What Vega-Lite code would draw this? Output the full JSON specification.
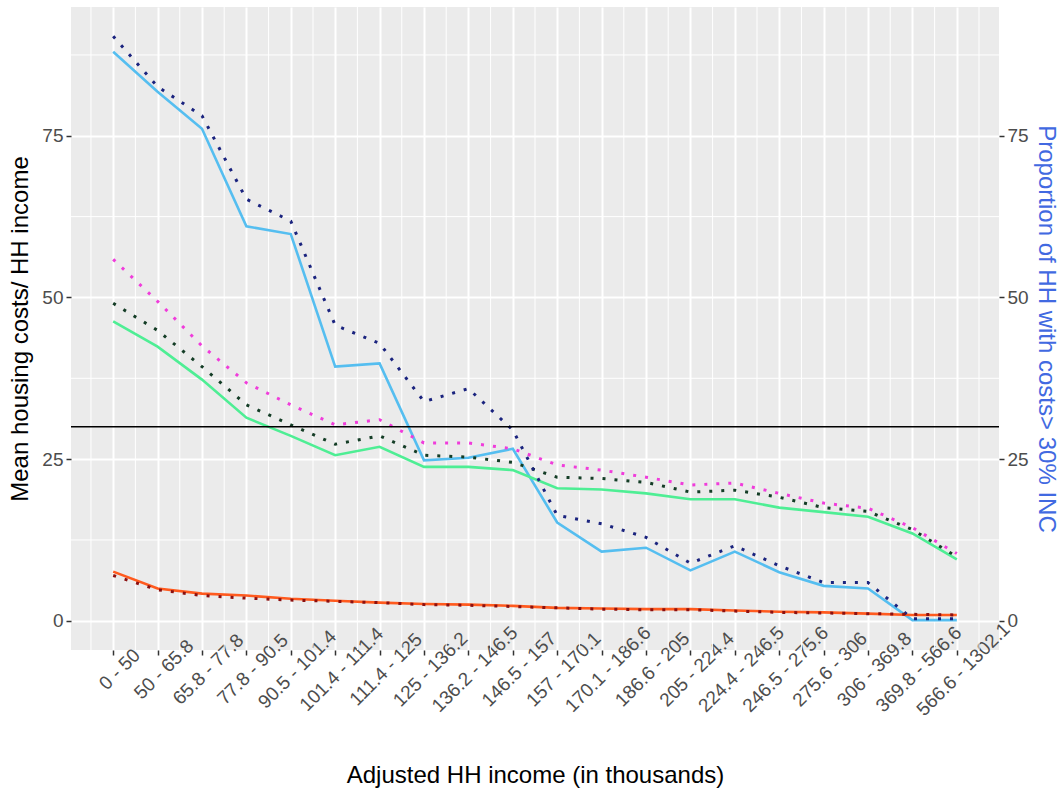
{
  "$schema": "https://vega.github.io/schema/vega-lite/v6.json",
  "width": 928,
  "height": 643,
  "autosize": {"type": "none"},
  "padding": {"left": 71, "top": 7, "right": 63, "bottom": 141},
  "background": "white",
  "config": {
    "view": {"fill": "#EBEBEB", "stroke": null},
    "font": "Liberation Sans",
    "axis": {
      "domain": false,
      "tickColor": "#333333",
      "tickSize": 5,
      "tickWidth": 1.5,
      "labelFont": "Liberation Sans",
      "labelFontSize": 19,
      "labelColor": "#4D4D4D",
      "titleFont": "Liberation Sans",
      "titleFontSize": 24,
      "titleFontWeight": "normal",
      "titleColor": "black",
      "gridColor": "white",
      "gridWidth": 2,
      "gridOpacity": 1
    },
    "axisX": {
      "values": [1, 2, 3, 4, 5, 6, 7, 8, 9, 10, 11, 12, 13, 14, 15, 16, 17, 18, 19, 20],
      "labelExpr": "['0 - 50','50 - 65.8','65.8 - 77.8','77.8 - 90.5','90.5 - 101.4','101.4 - 111.4','111.4 - 125','125 - 136.2','136.2 - 146.5','146.5 - 157','157 - 170.1','170.1 - 186.6','186.6 - 205','205 - 224.4','224.4 - 246.5','246.5 - 275.6','275.6 - 306','306 - 369.8','369.8 - 566.6','566.6 - 1302.1'][datum.value - 1]",
      "labelAngle": -45,
      "labelAlign": "center",
      "labelBaseline": "middle",
      "labelPadding": 14,
      "labelOffset": 6,
      "labelOverlap": false,
      "labelBound": false,
      "labelFlush": false,
      "grid": true,
      "titleY": 132,
      "titleBaseline": "alphabetic"
    }
  },
  "datasets": {
    "income_groups": [
      {"cat": 1, "income": "0 - 50", "share_a": 88.0, "share_b": 90.4, "ratio_a": 55.9, "ratio_b": 49.1, "ratio_c": 46.3, "ratio_d": 7.6, "ratio_e": 7.0},
      {"cat": 2, "income": "50 - 65.8", "share_a": 81.8, "share_b": 82.6, "ratio_a": 49.4, "ratio_b": 44.9, "ratio_c": 42.4, "ratio_d": 5.0, "ratio_e": 4.8},
      {"cat": 3, "income": "65.8 - 77.8", "share_a": 76.1, "share_b": 78.1, "ratio_a": 42.5, "ratio_b": 39.3, "ratio_c": 37.3, "ratio_d": 4.2, "ratio_e": 3.9},
      {"cat": 4, "income": "77.8 - 90.5", "share_a": 61.0, "share_b": 65.2, "ratio_a": 36.8, "ratio_b": 33.4, "ratio_c": 31.4, "ratio_d": 3.9, "ratio_e": 3.5},
      {"cat": 5, "income": "90.5 - 101.4", "share_a": 59.8, "share_b": 61.8, "ratio_a": 33.4, "ratio_b": 30.3, "ratio_c": 28.6, "ratio_d": 3.4, "ratio_e": 3.2},
      {"cat": 6, "income": "101.4 - 111.4", "share_a": 39.3, "share_b": 45.7, "ratio_a": 30.3, "ratio_b": 27.3, "ratio_c": 25.6, "ratio_d": 3.1, "ratio_e": 3.0},
      {"cat": 7, "income": "111.4 - 125", "share_a": 39.8, "share_b": 42.9, "ratio_a": 31.1, "ratio_b": 28.6, "ratio_c": 26.9, "ratio_d": 2.8, "ratio_e": 2.8},
      {"cat": 8, "income": "125 - 136.2", "share_a": 24.8, "share_b": 33.9, "ratio_a": 27.5, "ratio_b": 25.6, "ratio_c": 23.8, "ratio_d": 2.6, "ratio_e": 2.5},
      {"cat": 9, "income": "136.2 - 146.5", "share_a": 25.2, "share_b": 35.9, "ratio_a": 27.5, "ratio_b": 25.3, "ratio_c": 23.8, "ratio_d": 2.5, "ratio_e": 2.4},
      {"cat": 10, "income": "146.5 - 157", "share_a": 26.6, "share_b": 29.5, "ratio_a": 26.6, "ratio_b": 24.5, "ratio_c": 23.3, "ratio_d": 2.3, "ratio_e": 2.2},
      {"cat": 11, "income": "157 - 170.1", "share_a": 15.2, "share_b": 16.3, "ratio_a": 24.1, "ratio_b": 22.2, "ratio_c": 20.5, "ratio_d": 2.0, "ratio_e": 2.0},
      {"cat": 12, "income": "170.1 - 186.6", "share_a": 10.7, "share_b": 15.0, "ratio_a": 23.3, "ratio_b": 22.0, "ratio_c": 20.3, "ratio_d": 1.9, "ratio_e": 1.8},
      {"cat": 13, "income": "186.6 - 205", "share_a": 11.3, "share_b": 12.9, "ratio_a": 22.2, "ratio_b": 21.4, "ratio_c": 19.7, "ratio_d": 1.8, "ratio_e": 1.7},
      {"cat": 14, "income": "205 - 224.4", "share_a": 7.8, "share_b": 8.9, "ratio_a": 21.0, "ratio_b": 19.9, "ratio_c": 18.8, "ratio_d": 1.8, "ratio_e": 1.7},
      {"cat": 15, "income": "224.4 - 246.5", "share_a": 10.7, "share_b": 11.6, "ratio_a": 21.3, "ratio_b": 20.2, "ratio_c": 18.8, "ratio_d": 1.6, "ratio_e": 1.5},
      {"cat": 16, "income": "246.5 - 275.6", "share_a": 7.5, "share_b": 8.5, "ratio_a": 19.7, "ratio_b": 19.1, "ratio_c": 17.5, "ratio_d": 1.4, "ratio_e": 1.3},
      {"cat": 17, "income": "275.6 - 306", "share_a": 5.4, "share_b": 5.9, "ratio_a": 18.2, "ratio_b": 17.5, "ratio_c": 16.8, "ratio_d": 1.3, "ratio_e": 1.2},
      {"cat": 18, "income": "306 - 369.8", "share_a": 5.0, "share_b": 5.9, "ratio_a": 17.4, "ratio_b": 16.9, "ratio_c": 16.1, "ratio_d": 1.1, "ratio_e": 1.1},
      {"cat": 19, "income": "369.8 - 566.6", "share_a": 0.1, "share_b": 0.3, "ratio_a": 14.4, "ratio_b": 14.1, "ratio_c": 13.5, "ratio_d": 0.9, "ratio_e": 1.0},
      {"cat": 20, "income": "566.6 - 1302.1", "share_a": 0.1, "share_b": 0.3, "ratio_a": 10.4, "ratio_b": 9.9, "ratio_c": 9.5, "ratio_d": 0.9, "ratio_e": 0.9}
    ],
    "minor_x": [
      {"cat": 0.5}, {"cat": 1.5}, {"cat": 2.5}, {"cat": 3.5}, {"cat": 4.5}, {"cat": 5.5}, {"cat": 6.5},
      {"cat": 7.5}, {"cat": 8.5}, {"cat": 9.5}, {"cat": 10.5}, {"cat": 11.5}, {"cat": 12.5}, {"cat": 13.5},
      {"cat": 14.5}, {"cat": 15.5}, {"cat": 16.5}, {"cat": 17.5}, {"cat": 18.5}, {"cat": 19.5}, {"cat": 20.5}
    ],
    "minor_y": [{"level": 12.5}, {"level": 37.5}, {"level": 62.5}, {"level": 87.5}]
  },
  "resolve": {"axis": {"y": "independent"}},
  "layer": [
    {
      "data": {"name": "minor_x"},
      "mark": {"type": "rule", "color": "white", "strokeWidth": 1},
      "encoding": {
        "x": {"field": "cat", "type": "quantitative", "scale": {"domain": [0.05, 20.95], "nice": false, "zero": false}, "title": "Adjusted HH income (in thousands)"}
      }
    },
    {
      "data": {"name": "minor_y"},
      "mark": {"type": "rule", "color": "white", "strokeWidth": 1},
      "encoding": {
        "y": {"field": "level", "type": "quantitative", "scale": {"domain": [-4.52, 94.92], "nice": false, "zero": false}, "axis": null}
      }
    },
    {
      "data": {"name": "income_groups"},
      "mark": {"type": "line", "color": "#55BEF0", "strokeWidth": 2.6},
      "encoding": {
        "x": {"field": "cat", "type": "quantitative", "scale": {"domain": [0.05, 20.95], "nice": false, "zero": false}, "title": "Adjusted HH income (in thousands)"},
        "y": {
          "field": "share_a", "type": "quantitative",
          "scale": {"domain": [-4.52, 94.92], "nice": false, "zero": false},
          "axis": {
            "orient": "right",
            "values": [0, 25, 50, 75],
            "grid": false,
            "labelPadding": 3,
            "title": "Proportion of HH with costs> 30% INC",
            "titleColor": "#4169E1",
            "titleAngle": 90,
            "titleX": 46,
            "titleBaseline": "middle"
          }
        }
      }
    },
    {
      "data": {"name": "income_groups"},
      "mark": {"type": "line", "color": "#4EEE94", "strokeWidth": 2.6},
      "encoding": {
        "x": {"field": "cat", "type": "quantitative", "scale": {"domain": [0.05, 20.95], "nice": false, "zero": false}, "title": "Adjusted HH income (in thousands)"},
        "y": {
          "field": "ratio_c", "type": "quantitative",
          "scale": {"domain": [-4.52, 94.92], "nice": false, "zero": false},
          "axis": {
            "orient": "left",
            "values": [0, 25, 50, 75],
            "grid": true,
            "labelPadding": 3,
            "title": "Mean housing costs/ HH income",
            "titleAngle": -90,
            "titleX": -51,
            "titleBaseline": "middle"
          }
        }
      }
    },
    {
      "data": {"name": "income_groups"},
      "mark": {"type": "line", "color": "#FF5A1E", "strokeWidth": 2.6},
      "encoding": {
        "x": {"field": "cat", "type": "quantitative", "scale": {"domain": [0.05, 20.95], "nice": false, "zero": false}, "title": "Adjusted HH income (in thousands)"},
        "y": {"field": "ratio_d", "type": "quantitative", "scale": {"domain": [-4.52, 94.92], "nice": false, "zero": false}, "axis": null}
      }
    },
    {
      "data": {"name": "income_groups"},
      "mark": {"type": "line", "color": "#F03CDB", "strokeWidth": 3, "strokeDash": [3, 9]},
      "encoding": {
        "x": {"field": "cat", "type": "quantitative", "scale": {"domain": [0.05, 20.95], "nice": false, "zero": false}, "title": "Adjusted HH income (in thousands)"},
        "y": {"field": "ratio_a", "type": "quantitative", "scale": {"domain": [-4.52, 94.92], "nice": false, "zero": false}, "axis": null}
      }
    },
    {
      "data": {"name": "income_groups"},
      "mark": {"type": "line", "color": "#143D26", "strokeWidth": 3, "strokeDash": [3, 9]},
      "encoding": {
        "x": {"field": "cat", "type": "quantitative", "scale": {"domain": [0.05, 20.95], "nice": false, "zero": false}, "title": "Adjusted HH income (in thousands)"},
        "y": {"field": "ratio_b", "type": "quantitative", "scale": {"domain": [-4.52, 94.92], "nice": false, "zero": false}, "axis": null}
      }
    },
    {
      "data": {"name": "income_groups"},
      "mark": {"type": "line", "color": "#1A237E", "strokeWidth": 3, "strokeDash": [3, 9]},
      "encoding": {
        "x": {"field": "cat", "type": "quantitative", "scale": {"domain": [0.05, 20.95], "nice": false, "zero": false}, "title": "Adjusted HH income (in thousands)"},
        "y": {"field": "share_b", "type": "quantitative", "scale": {"domain": [-4.52, 94.92], "nice": false, "zero": false}, "axis": null}
      }
    },
    {
      "data": {"name": "income_groups"},
      "mark": {"type": "line", "color": "#8B1010", "strokeWidth": 3, "strokeDash": [3, 9]},
      "encoding": {
        "x": {"field": "cat", "type": "quantitative", "scale": {"domain": [0.05, 20.95], "nice": false, "zero": false}, "title": "Adjusted HH income (in thousands)"},
        "y": {"field": "ratio_e", "type": "quantitative", "scale": {"domain": [-4.52, 94.92], "nice": false, "zero": false}, "axis": null}
      }
    },
    {
      "data": {"values": [{"threshold": 30}]},
      "mark": {"type": "rule", "color": "black", "strokeWidth": 1.5},
      "encoding": {
        "y": {"field": "threshold", "type": "quantitative", "scale": {"domain": [-4.52, 94.92], "nice": false, "zero": false}, "axis": null}
      }
    }
  ]
}
